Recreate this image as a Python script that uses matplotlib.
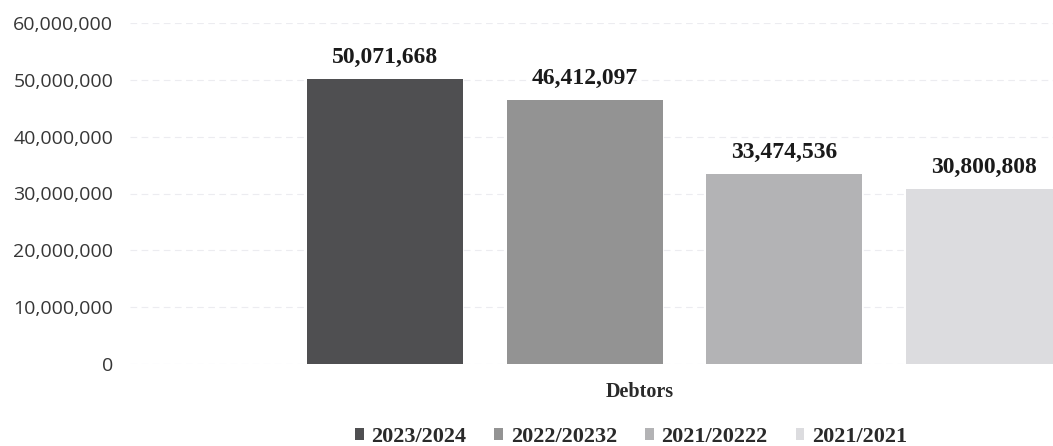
import matplotlib
matplotlib.use("Agg")
import matplotlib.pyplot as plt
from matplotlib.ticker import FuncFormatter

# Debtors balance by financial year
series = ["2023/2024", "2022/20232", "2021/20222", "2021/2021"]
values = [50071668, 46412097, 33474536, 30800808]
colors = ["#4f4f51", "#939393", "#b3b3b5", "#dcdcdf"]
category = "Debtors"
yticks = [0, 10000000, 20000000, 30000000, 40000000, 50000000, 60000000]

W, H = 1053, 446
fig = plt.figure(figsize=(W / 100, H / 100), dpi=100)
ax = fig.add_axes([130 / W, (H - 364) / H, (W - 130) / W, (364 - 23) / H])

positions = list(range(len(values)))
bars = []
for pos, val, col, name in zip(positions, values, colors, series):
    b = ax.bar(pos, val, width=0.782, color=col, label=name, zorder=2)
    bars.append(b)
    ax.annotate(f"{val:,}", xy=(pos, val), xytext=(0, 8), textcoords="offset points",
                ha="center", va="bottom", fontsize=17, fontweight="bold",
                family="Liberation Serif", color="#1a1a1a", zorder=3)

ax.set_xlim(-1.278, 3.348)
ax.set_ylim(0, 60000000)
ax.set_yticks(yticks)
ax.yaxis.set_major_formatter(FuncFormatter(lambda v, p: f"{int(v):,}"))
ax.set_xticks([])
ax.tick_params(axis="y", length=0, pad=12, labelsize=14, labelcolor="#363636")
for lab in ax.get_yticklabels():
    lab.set_family("Open Sans")
ax.grid(axis="y", color="#ececf0", linestyle=(0, (6, 4)), linewidth=0.8, zorder=0)
for s in ax.spines.values():
    s.set_visible(False)

fig.text(640 / W, 1 - 392 / H, category, ha="center", va="center",
         fontsize=14.5, fontweight="bold", family="Liberation Serif", color="#2a2a2a")

leg = fig.legend(handles=[b[0] for b in bars], labels=series, ncol=4,
                 loc="center", bbox_to_anchor=(631 / W, 1 - 437 / H),
                 frameon=False, handlelength=0.4, handleheight=0.45,
                 handletextpad=0.35, columnspacing=1.25,
                 prop={"family": "Liberation Serif", "weight": "bold", "size": 16})
for t in leg.get_texts():
    t.set_color("#2a2a2a")

fig.savefig("out.png", dpi=100, facecolor="white")
